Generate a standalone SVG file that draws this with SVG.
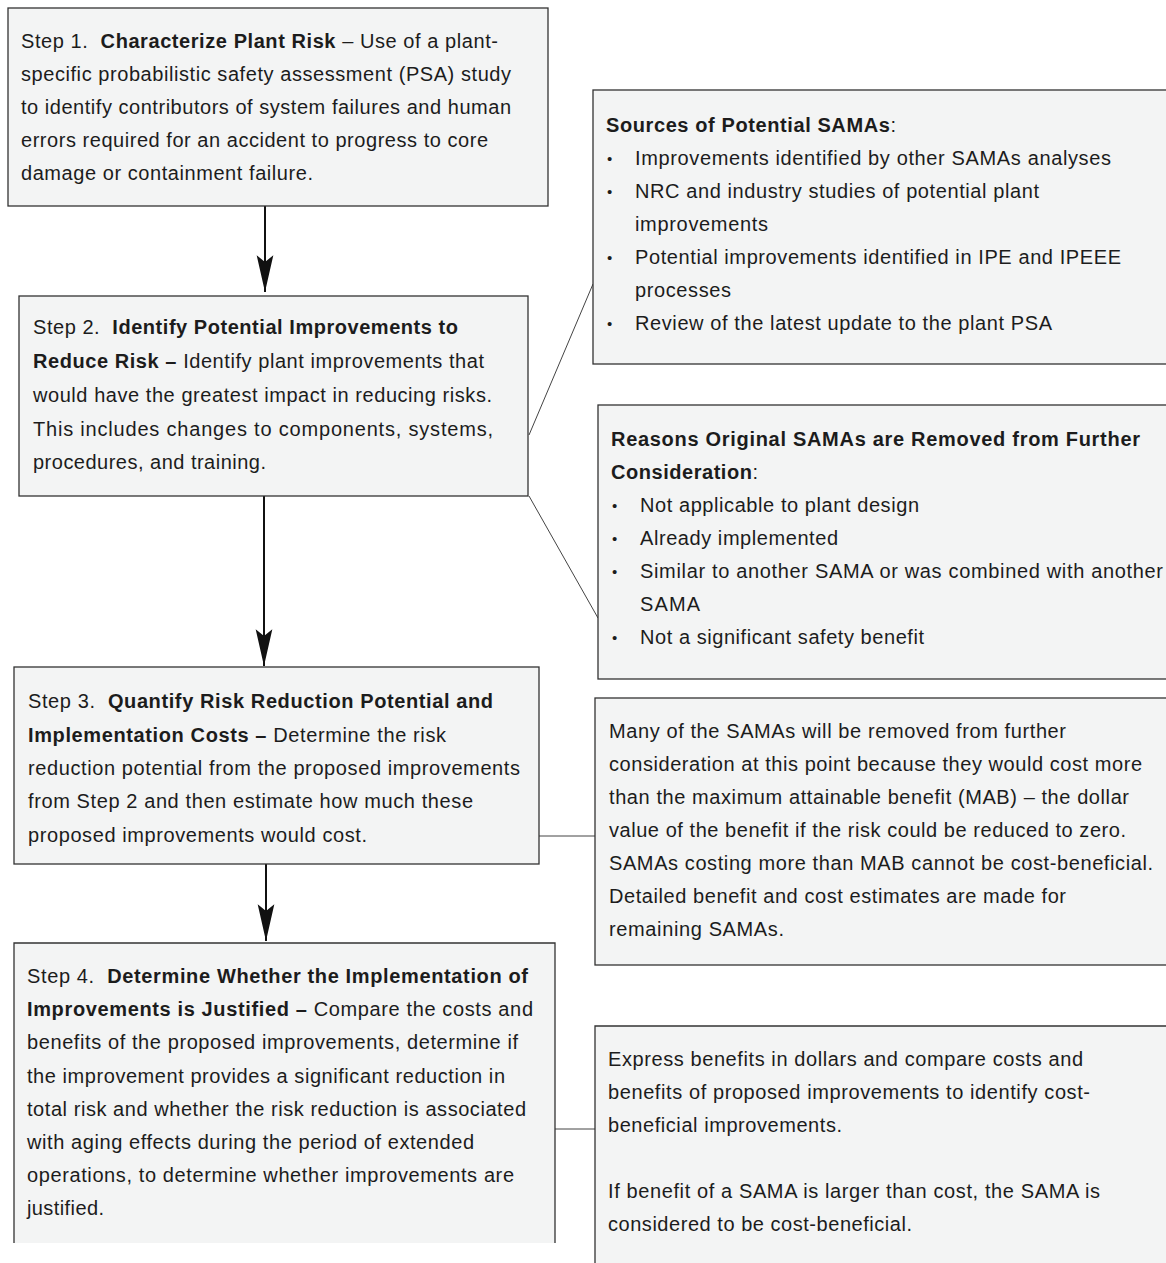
<svg xmlns="http://www.w3.org/2000/svg" width="1166" height="1263" viewBox="0 0 1166 1263">
<defs>
<style>
.box{fill:#f3f4f4;stroke:#333;stroke-width:1.3}
.fill{fill:#f3f4f4;stroke:none}
.edge{fill:none;stroke:#333;stroke-width:1.3}
text{font-family:"Liberation Sans",Arial,sans-serif;font-size:20px;fill:#1c1c1c;white-space:pre}
.b{font-weight:bold}
.bul{font-size:15px}
.arrow{stroke:#111;stroke-width:2;fill:none}
.link{stroke:#444;stroke-width:1;fill:none}
</style>
<marker id="ah" markerUnits="userSpaceOnUse" markerWidth="40" markerHeight="20" viewBox="-34 -9 36 18" refX="0" refY="0" orient="auto">
<path d="M0,0 L-33,-7.5 L-27,0 L-33,7.5 Z" fill="#111"/>
</marker>
</defs>
<rect width="1166" height="1263" fill="#ffffff"/>

<g id="connectors">
<line class="arrow" x1="265" y1="206" x2="265" y2="292" marker-end="url(#ah)"/>
<line class="arrow" x1="264" y1="496" x2="264" y2="666" marker-end="url(#ah)"/>
<line class="arrow" x1="266" y1="864" x2="266" y2="941" marker-end="url(#ah)"/>
<line class="link" x1="529" y1="435" x2="593" y2="284"/>
<line class="link" x1="529" y1="496" x2="598" y2="618"/>
<line class="link" x1="539" y1="836" x2="595" y2="836"/>
<line class="link" x1="555" y1="1129" x2="595" y2="1129"/>
</g>

<g id="step1">
<rect class="box" x="8" y="8" width="540" height="198"/>
<text x="21" y="48" textLength="477">Step 1.  <tspan class="b">Characterize Plant Risk</tspan> – Use of a plant-</text>
<text x="21" y="81" textLength="490">specific probabilistic safety assessment (PSA) study</text>
<text x="21" y="114" textLength="490">to identify contributors of system failures and human</text>
<text x="21" y="147" textLength="467">errors required for an accident to progress to core</text>
<text x="21" y="180" textLength="292">damage or containment failure.</text>
</g>

<g id="step2">
<rect class="box" x="19" y="296" width="509" height="200"/>
<text x="33" y="334" textLength="425">Step 2.  <tspan class="b">Identify Potential Improvements to</tspan></text>
<text x="33" y="368" textLength="451"><tspan class="b">Reduce Risk –</tspan> Identify plant improvements that</text>
<text x="33" y="402" textLength="459">would have the greatest impact in reducing risks.</text>
<text x="33" y="436" textLength="460">This includes changes to components, systems,</text>
<text x="33" y="469" textLength="233">procedures, and training.</text>
</g>

<g id="step3">
<rect class="box" x="14" y="667" width="525" height="197"/>
<text x="28" y="708" textLength="465">Step 3.  <tspan class="b">Quantify Risk Reduction Potential and</tspan></text>
<text x="28" y="742" textLength="418"><tspan class="b">Implementation Costs –</tspan> Determine the risk</text>
<text x="28" y="775" textLength="492">reduction potential from the proposed improvements</text>
<text x="28" y="808" textLength="445">from Step 2 and then estimate how much these</text>
<text x="28" y="842" textLength="339">proposed improvements would cost.</text>
</g>

<g id="step4">
<rect class="fill" x="14" y="943" width="541" height="300"/>
<path class="edge" d="M14,1243 V943 H555 V1243"/>
<text x="27" y="983" textLength="501">Step 4.  <tspan class="b">Determine Whether the Implementation of</tspan></text>
<text x="27" y="1016" textLength="506"><tspan class="b">Improvements is Justified –</tspan> Compare the costs and</text>
<text x="27" y="1049" textLength="491">benefits of the proposed improvements, determine if</text>
<text x="27" y="1083" textLength="478">the improvement provides a significant reduction in</text>
<text x="27" y="1116" textLength="499">total risk and whether the risk reduction is associated</text>
<text x="27" y="1149" textLength="447">with aging effects during the period of extended</text>
<text x="27" y="1182" textLength="487">operations, to determine whether improvements are</text>
<text x="27" y="1215" textLength="77">justified.</text>
</g>

<g id="sources">
<rect class="box" x="593" y="90" width="590" height="274"/>
<text x="606" y="132" textLength="290"><tspan class="b">Sources of Potential SAMAs</tspan>:</text>
<text class="bul" x="607" y="164">•</text>
<text x="635" y="165" textLength="476">Improvements identified by other SAMAs analyses</text>
<text class="bul" x="607" y="197">•</text>
<text x="635" y="198" textLength="404">NRC and industry studies of potential plant</text>
<text x="635" y="231" textLength="133">improvements</text>
<text class="bul" x="607" y="263">•</text>
<text x="635" y="264" textLength="486">Potential improvements identified in IPE and IPEEE</text>
<text x="635" y="297" textLength="96">processes</text>
<text class="bul" x="607" y="329">•</text>
<text x="635" y="330" textLength="417">Review of the latest update to the plant PSA</text>
</g>

<g id="reasons">
<rect class="box" x="598" y="405" width="590" height="274"/>
<text x="611" y="446" textLength="529" class="b">Reasons Original SAMAs are Removed from Further</text>
<text x="611" y="479" textLength="147"><tspan class="b">Consideration</tspan>:</text>
<text class="bul" x="612" y="511">•</text>
<text x="640" y="512" textLength="279">Not applicable to plant design</text>
<text class="bul" x="612" y="544">•</text>
<text x="640" y="545" textLength="198">Already implemented</text>
<text class="bul" x="612" y="577">•</text>
<text x="640" y="578" textLength="523">Similar to another SAMA or was combined with another</text>
<text x="640" y="611" textLength="60">SAMA</text>
<text class="bul" x="612" y="643">•</text>
<text x="640" y="644" textLength="284">Not a significant safety benefit</text>
</g>

<g id="mab-note">
<rect class="box" x="595" y="698" width="590" height="267"/>
<text x="609" y="738" textLength="457">Many of the SAMAs will be removed from further</text>
<text x="609" y="771" textLength="533">consideration at this point because they would cost more</text>
<text x="609" y="804" textLength="520">than the maximum attainable benefit (MAB) – the dollar</text>
<text x="609" y="837" textLength="517">value of the benefit if the risk could be reduced to zero.</text>
<text x="609" y="870" textLength="544">SAMAs costing more than MAB cannot be cost-beneficial.</text>
<text x="609" y="903" textLength="457">Detailed benefit and cost estimates are made for</text>
<text x="609" y="936" textLength="175">remaining SAMAs.</text>
</g>

<g id="express-note">
<rect class="fill" x="595" y="1026" width="590" height="250"/>
<path class="edge" d="M595,1270 V1026 H1180"/>
<text x="608" y="1066" textLength="475">Express benefits in dollars and compare costs and</text>
<text x="608" y="1099" textLength="482">benefits of proposed improvements to identify cost-</text>
<text x="608" y="1132" textLength="234">beneficial improvements.</text>
<text x="608" y="1198" textLength="492">If benefit of a SAMA is larger than cost, the SAMA is</text>
<text x="608" y="1231" textLength="304">considered to be cost-beneficial.</text>
</g>
</svg>
